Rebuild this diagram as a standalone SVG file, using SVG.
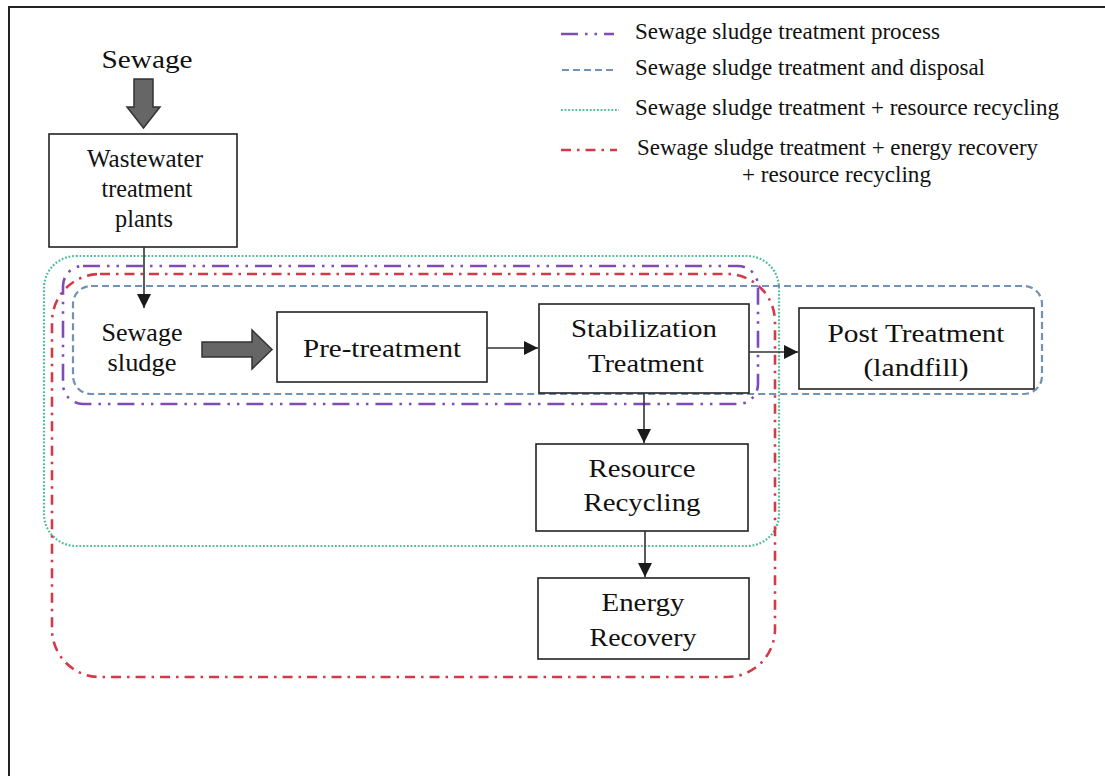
<svg xmlns="http://www.w3.org/2000/svg" width="1105" height="776" viewBox="0 0 1105 776">
  <defs>
    <marker id="arrow" markerUnits="userSpaceOnUse" markerWidth="14" markerHeight="14" refX="14" refY="7" orient="auto">
      <path d="M0,0 L14,7 L0,14 z" fill="#1a1a1a"/>
    </marker>
    <style>
      text { font-family: "Liberation Serif", "Times New Roman", serif; fill: #111; }
      .node { font-size: 26px; text-anchor: middle; }
      .legend { font-size: 23px; }
      .box { fill: #fff; stroke: #222; stroke-width: 1.6; }
      .flow { stroke: #333; stroke-width: 1.6; fill: none; marker-end: url(#arrow); }
      .big { fill: #666; stroke: #333; stroke-width: 1.5; }
      .process { fill: none; stroke: #7d4cb8; stroke-width: 2.6; stroke-dasharray: 17 7 2.5 7 2.5 7; }
      .disposal { fill: none; stroke: #7391b4; stroke-width: 2.2; stroke-dasharray: 7 4; }
      .recycle { fill: none; stroke: #4fbd94; stroke-width: 2.2; stroke-dasharray: 1.8 1.8; }
      .energy { fill: none; stroke: #d23a47; stroke-width: 2.6; stroke-dasharray: 10 6 2.5 6; }
    </style>
  </defs>

  <rect width="1105" height="776" fill="#fff"/>

  <!-- frame edges -->
  <path d="M9,776 L9,7 L1105,7" fill="none" stroke="#222" stroke-width="2"/>

  <!-- legend -->
  <g id="legend">
    <line class="process" x1="561" y1="34" x2="614" y2="34"/>
    <text class="legend" x="635" y="39" textLength="305" lengthAdjust="spacingAndGlyphs">Sewage sludge treatment process</text>
    <line class="disposal" x1="562" y1="70" x2="614" y2="70"/>
    <text class="legend" x="635" y="75" textLength="350" lengthAdjust="spacingAndGlyphs">Sewage sludge treatment and disposal</text>
    <line class="recycle" x1="561" y1="110" x2="619" y2="110"/>
    <text class="legend" x="635" y="115" textLength="424" lengthAdjust="spacingAndGlyphs">Sewage sludge treatment + resource recycling</text>
    <line class="energy" x1="561" y1="150" x2="617" y2="150"/>
    <text class="legend" x="637" y="155" textLength="401" lengthAdjust="spacingAndGlyphs">Sewage sludge treatment + energy recovery</text>
    <text class="legend" x="742" y="182" textLength="189" lengthAdjust="spacingAndGlyphs">+ resource recycling</text>
  </g>

  <!-- scope boundaries -->
  <g id="boundaries">
    <rect id="scope-recycling" class="recycle" x="44" y="256" width="735" height="290" rx="32" ry="32"/>
    <rect id="scope-energy" class="energy" x="52" y="274" width="723" height="403" rx="48" ry="48"/>
    <rect id="scope-process" class="process" x="63" y="266" width="695" height="138" rx="20" ry="20"/>
    <rect id="scope-disposal" class="disposal" x="73" y="286" width="969" height="108" rx="18" ry="18"/>
  </g>

  <!-- sewage inflow -->
  <g id="sewage">
    <text class="node" x="147" y="68" textLength="91" lengthAdjust="spacingAndGlyphs">Sewage</text>
    <polygon class="big" points="134,79 153,79 153,107 160,107 143.5,128 127,107 134,107"/>
  </g>

  <g id="wwtp">
    <rect class="box" x="49" y="134" width="188" height="113"/>
    <text class="node" x="145" y="167" textLength="116" lengthAdjust="spacingAndGlyphs">Wastewater</text>
    <text class="node" x="147" y="197" textLength="91" lengthAdjust="spacingAndGlyphs">treatment</text>
    <text class="node" x="144" y="227" textLength="58" lengthAdjust="spacingAndGlyphs">plants</text>
  </g>

  <g id="sludge">
    <text class="node" x="142" y="341" textLength="81" lengthAdjust="spacingAndGlyphs">Sewage</text>
    <text class="node" x="142" y="371" textLength="69" lengthAdjust="spacingAndGlyphs">sludge</text>
    <polygon class="big" points="202,342 252,342 252,330 272,349.5 252,369 252,357 202,357"/>
  </g>

  <g id="pretreatment">
    <rect class="box" x="277" y="312" width="210" height="70"/>
    <text class="node" x="382" y="357" textLength="158" lengthAdjust="spacingAndGlyphs">Pre-treatment</text>
  </g>

  <g id="stabilization">
    <rect class="box" x="539" y="304" width="210" height="89"/>
    <text class="node" x="644" y="337" textLength="146" lengthAdjust="spacingAndGlyphs">Stabilization</text>
    <text class="node" x="646" y="372" textLength="116" lengthAdjust="spacingAndGlyphs">Treatment</text>
  </g>

  <g id="post-treatment">
    <rect class="box" x="799" y="308" width="235" height="81"/>
    <text class="node" x="916" y="342" textLength="177" lengthAdjust="spacingAndGlyphs">Post Treatment</text>
    <text class="node" x="916" y="376" textLength="105" lengthAdjust="spacingAndGlyphs">(landfill)</text>
  </g>

  <g id="resource-recycling">
    <rect class="box" x="536" y="444" width="212" height="87"/>
    <text class="node" x="642" y="477" textLength="107" lengthAdjust="spacingAndGlyphs">Resource</text>
    <text class="node" x="642" y="511" textLength="117" lengthAdjust="spacingAndGlyphs">Recycling</text>
  </g>

  <g id="energy-recovery">
    <rect class="box" x="538" y="578" width="211" height="81"/>
    <text class="node" x="643" y="611" textLength="83" lengthAdjust="spacingAndGlyphs">Energy</text>
    <text class="node" x="643" y="646" textLength="107" lengthAdjust="spacingAndGlyphs">Recovery</text>
  </g>

  <!-- connectors -->
  <g id="connectors">
    <line class="flow" x1="144" y1="247" x2="144" y2="308"/>
    <line class="flow" x1="487" y1="348" x2="538" y2="348"/>
    <line class="flow" x1="749" y1="352" x2="798" y2="352"/>
    <line class="flow" x1="644" y1="393" x2="644" y2="443"/>
    <line class="flow" x1="645" y1="531" x2="645" y2="577"/>
  </g>
</svg>
